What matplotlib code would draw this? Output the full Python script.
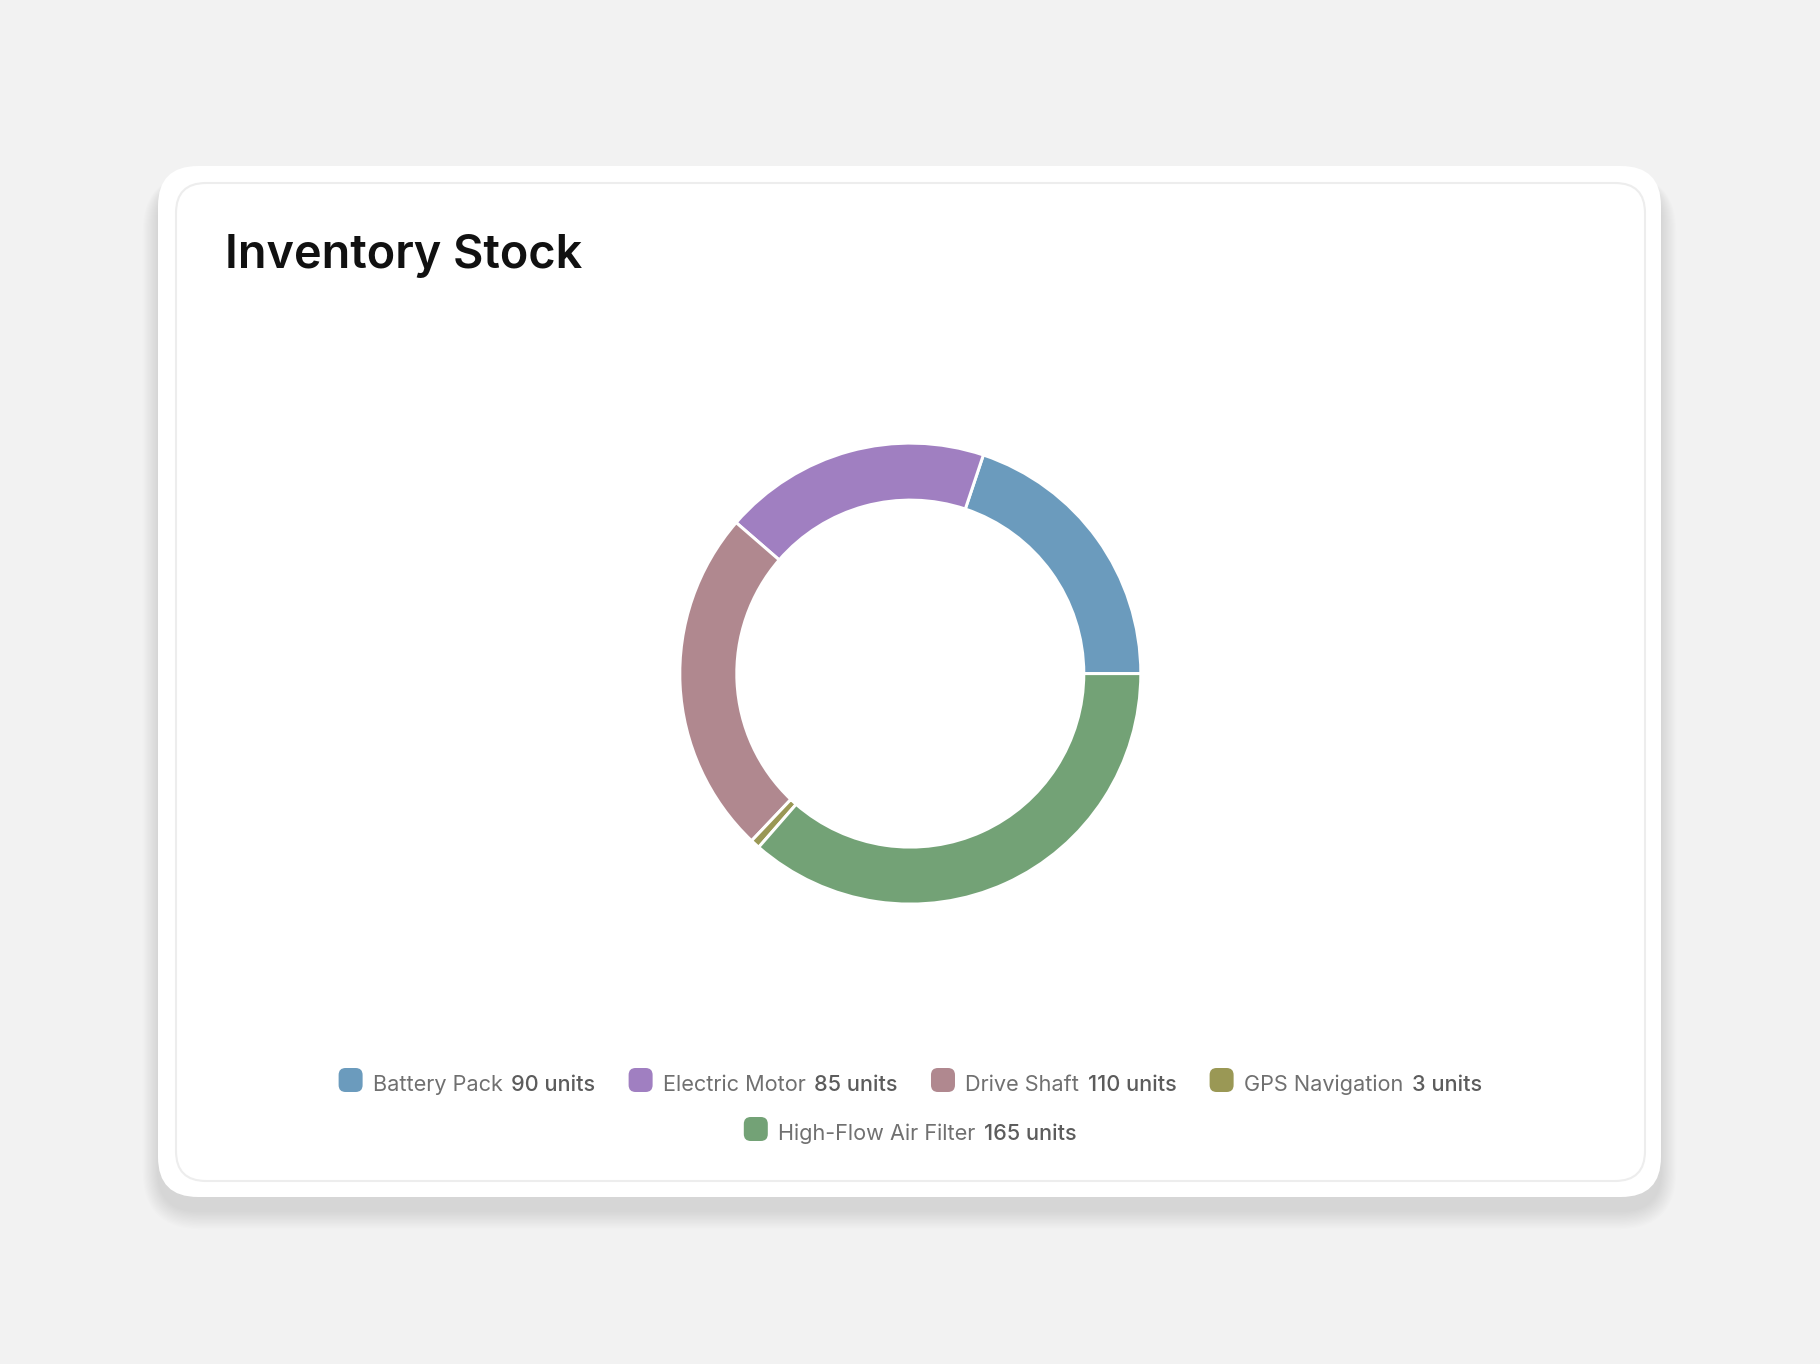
import matplotlib
matplotlib.use("Agg")
import matplotlib.pyplot as plt
from matplotlib.patches import FancyBboxPatch

# ---- data ----
categories = ["Battery Pack", "Electric Motor", "Drive Shaft", "GPS Navigation", "High-Flow Air Filter"]
values = [90, 85, 110, 3, 165]
unit_label = "units"
colors = ["#6b9bbd", "#a07fc1", "#b0888f", "#9a9855", "#73a276"]
title = "Inventory Stock"

W, H, DPI = 1820, 1364, 100
plt.rcParams['font.family'] = ['Inter', 'DejaVu Sans']

fig = plt.figure(figsize=(W / DPI, H / DPI), dpi=DPI, facecolor="#f2f2f2")

# background axes in pixel coordinates
bg = fig.add_axes([0, 0, 1, 1])
bg.set_xlim(0, W)
bg.set_ylim(H, 0)
bg.axis("off")

# card shadow
cx0, cy0, cx1, cy1 = 158, 166, 1661, 1197
for i in range(14):
    grow = 2 + i * 2.2
    bg.add_patch(FancyBboxPatch((cx0 - grow * 0.5, cy0 + 14 - grow * 0.2),
                                (cx1 - cx0) + grow * 1.0, (cy1 - cy0) + grow * 0.8,
                                boxstyle="round,pad=0,rounding_size=%f" % (40 + grow * 0.6),
                                facecolor="#000000", edgecolor="none", alpha=0.006, zorder=1))
# card
bg.add_patch(FancyBboxPatch((cx0, cy0), cx1 - cx0, cy1 - cy0,
                            boxstyle="round,pad=0,rounding_size=40",
                            facecolor="white", edgecolor="none", zorder=2))
# inner border
bg.add_patch(FancyBboxPatch((176, 183), 1645 - 176, 1181 - 183,
                            boxstyle="round,pad=0,rounding_size=30",
                            facecolor="white", edgecolor="#ededed", linewidth=1.5, zorder=3))

# title
bg.text(225, 268, title, fontsize=46.8 * 0.72, fontweight="semibold", color="#111111",
        va="baseline", ha="left", zorder=5)

# donut chart
pcx, pcy, half = 910.3, 673.6, 260
pie_ax = fig.add_axes([(pcx - half) / W, 1 - (pcy + half) / H, 2 * half / W, 2 * half / H])
edge_px = 3.0
R_out, R_in = 229.0, 175.0
pie_ax.pie(values, colors=colors, startangle=0, counterclock=True,
           radius=R_out + edge_px / 2,
           wedgeprops=dict(width=(R_out - R_in) + edge_px, edgecolor="white",
                           linewidth=edge_px * 72 / DPI, joinstyle="round"),
           frame=True)
pie_ax.set_xlim(-half, half)
pie_ax.set_ylim(-half, half)
pie_ax.set_aspect("equal")
pie_ax.axis("off")

# legend (custom, centered rows)
renderer = fig.canvas.get_renderer()
fs = 21.7 * 0.72
sw = 24
sw_gap = 10
lv_gap = 9
item_gap = 33
max_row = 1400
row_base = [1091, 1140]

def measure(s, weight):
    t = bg.text(0, 0, s, fontsize=fs, fontweight=weight)
    w = t.get_window_extent(renderer).width
    t.remove()
    return w

items = []
for cat, val, col in zip(categories, values, colors):
    lab = cat
    vs = f"{val} {unit_label}"
    wl = measure(lab, "normal")
    wv = measure(vs, "medium")
    items.append((lab, vs, col, wl, wv, sw + sw_gap + wl + lv_gap + wv))

rows = [[]]
cur = 0
for it in items:
    add = it[5] + (item_gap if rows[-1] else 0)
    if rows[-1] and cur + add > max_row:
        rows.append([it])
        cur = it[5]
    else:
        rows[-1].append(it)
        cur += add

for ri, row in enumerate(rows):
    total = sum(it[5] for it in row) + item_gap * (len(row) - 1)
    x = pcx - total / 2
    base = row_base[0] + ri * (row_base[1] - row_base[0])
    for lab, vs, col, wl, wv, wt in row:
        bg.add_patch(FancyBboxPatch((x, base - 23), sw, sw,
                                    boxstyle="round,pad=0,rounding_size=7",
                                    facecolor=col, edgecolor="none", zorder=5))
        tx = x + sw + sw_gap
        bg.text(tx, base, lab, fontsize=fs, color="#707070", va="baseline", ha="left", zorder=5)
        bg.text(tx + wl + lv_gap, base, vs, fontsize=fs, fontweight="medium", color="#5c5c5c",
                va="baseline", ha="left", zorder=5)
        x += wt + item_gap

fig.savefig("out.png", dpi=DPI, facecolor=fig.get_facecolor())
